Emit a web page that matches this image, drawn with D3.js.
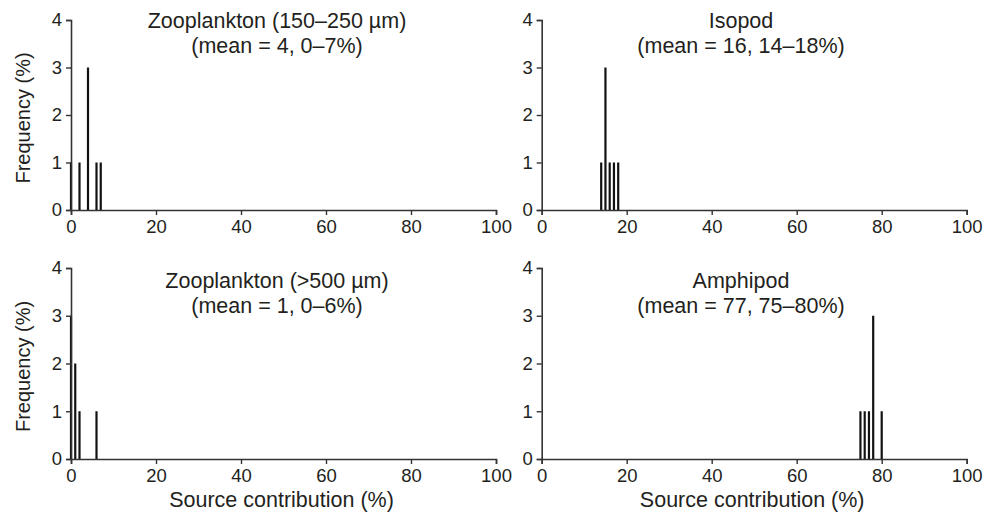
<!DOCTYPE html>
<html>
<head>
<meta charset="utf-8">
<script src="https://cdn.jsdelivr.net/npm/d3@7"></script>
<style>
html,body{margin:0;padding:0;background:#fff;}
svg{display:block;}
text{font-family:"Liberation Sans",Arial,Helvetica,sans-serif;fill:#231f20;}
</style>
</head>
<body>
<svg id="chart" width="992" height="515"></svg>
<script>
// ---- data ----
const panelTitles = ["Zooplankton (150\u2013250 \u00b5m)", "Isopod", "Zooplankton (>500 \u00b5m)", "Amphipod"];
const panelSubtitles = ["(mean = 4, 0\u20137%)", "(mean = 16, 14\u201318%)", "(mean = 1, 0\u20136%)", "(mean = 77, 75\u201380%)"];
const zoo150Contrib = [0, 2, 4, 6, 7];
const zoo150Freq    = [1, 1, 3, 1, 1];
const isopodContrib = [14, 15, 16, 17, 18];
const isopodFreq    = [1, 3, 1, 1, 1];
const zoo500Contrib = [0, 1, 2, 6];
const zoo500Freq    = [3, 2, 1, 1];
const amphiContrib  = [75, 76, 77, 78, 80];
const amphiFreq     = [1, 1, 1, 3, 1];
const xTicks = [0, 20, 40, 60, 80, 100];
const yTicks = [0, 1, 2, 3, 4];
const xLabel = "Source contribution (%)";
const yLabel = "Frequency (%)";

const panels = [
  {contrib: zoo150Contrib, freq: zoo150Freq, col: 0, row: 0},
  {contrib: isopodContrib, freq: isopodFreq, col: 1, row: 0},
  {contrib: zoo500Contrib, freq: zoo500Freq, col: 0, row: 1},
  {contrib: amphiContrib,  freq: amphiFreq,  col: 1, row: 1}
];

// ---- layout ----
const colX = [[71, 496], [541.7, 966.7]];
const rowY = [[210, 20], [459, 268]];
const titleCX = [277, 741];
const titleBase = [28, 288];

const svg = d3.select("#chart");
const axisColor = "#333";

panels.forEach((p, i) => {
  const x = d3.scaleLinear().domain([0, 100]).range(colX[p.col]);
  const y = d3.scaleLinear().domain([0, 4]).range(rowY[p.row]);
  const g = svg.append("g");

  // bars
  g.selectAll("line.bar").data(p.contrib.map((c, j) => ({c, f: p.freq[j]})))
    .enter().append("line")
    .attr("class", "bar")
    .attr("x1", d => x(d.c)).attr("x2", d => x(d.c))
    .attr("y1", y(0)).attr("y2", d => y(d.f))
    .attr("stroke", "#111").attr("stroke-width", 2.2);

  // x axis
  const xa = g.append("g").attr("transform", `translate(0,${y(0)})`)
    .call(d3.axisBottom(x).tickValues(xTicks).tickFormat(d3.format("d")).tickSizeOuter(0).tickSize(5).tickPadding(5));
  // y axis
  const ya = g.append("g").attr("transform", `translate(${x(0)},0)`)
    .call(d3.axisLeft(y).tickValues(yTicks).tickFormat(d3.format("d")).tickSizeOuter(0).tickSize(5).tickPadding(4));
  [xa, ya].forEach(a => {
    a.select(".domain").attr("stroke", axisColor).attr("stroke-width", 1.6);
    a.selectAll(".tick line").attr("stroke", axisColor).attr("stroke-width", 1.4);
    a.selectAll(".tick text").attr("font-size", 18.5).attr("fill", "#231f20")
      .style("font-family", "'Liberation Sans',Arial,sans-serif");
  });

  // titles
  g.append("text").attr("x", titleCX[p.col]).attr("y", titleBase[p.row])
    .attr("text-anchor", "middle").attr("font-size", 21.5).text(panelTitles[i]);
  g.append("text").attr("x", titleCX[p.col]).attr("y", titleBase[p.row] + 25)
    .attr("text-anchor", "middle").attr("font-size", 21.5).text(panelSubtitles[i]);

  // y label on left column
  if (p.col === 0) {
    const cy = (rowY[p.row][0] + rowY[p.row][1]) / 2 + 3;
    g.append("text").attr("transform", `translate(30,${cy}) rotate(-90)`)
      .attr("text-anchor", "middle").attr("font-size", 20).text(yLabel);
  }
  // x label on bottom row
  if (p.row === 1) {
    g.append("text").attr("x", (colX[p.col][0] + colX[p.col][1]) / 2 - 2).attr("y", 507)
      .attr("text-anchor", "middle").attr("font-size", 21.5).text(xLabel);
  }
});
</script>
</body>
</html>
